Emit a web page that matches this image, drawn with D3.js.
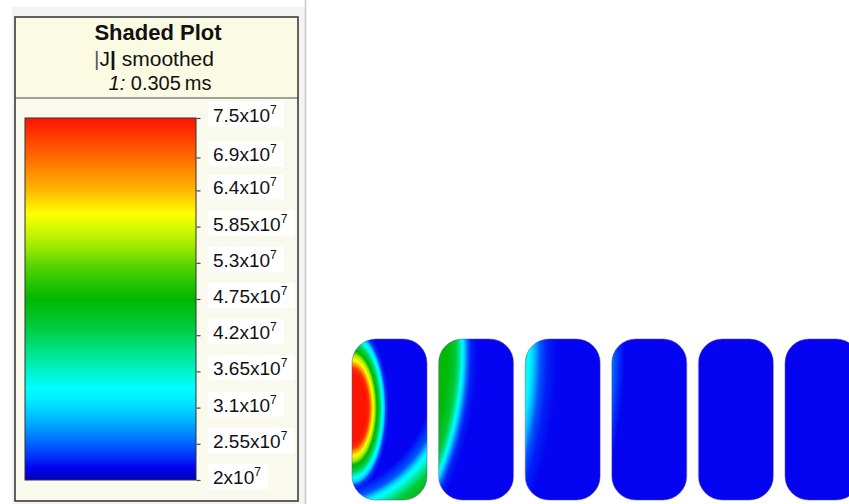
<!DOCTYPE html>
<html>
<head>
<meta charset="utf-8">
<script src="https://cdn.jsdelivr.net/npm/d3@7"></script>
<style>
  html, body { margin: 0; padding: 0; background: #fff; }
  svg { display: block; font-family: "Liberation Sans", Arial, Helvetica, sans-serif; }
</style>
</head>
<body>
<svg id="chart" width="849" height="504"></svg>
<script>
// ---- data -------------------------------------------------------------
// colour-scale ticks, |J| in units of 1e7 A/m^2
const jTicks = [7.5, 6.9, 6.4, 5.85, 5.3, 4.75, 4.2, 3.65, 3.1, 2.55, 2];
const jRange = [2, 7.5];

// colour map: |J| value -> colour
const mapJ = [2.0, 2.2, 2.35, 2.6, 2.9, 3.2, 3.4, 3.7, 4.0, 4.3, 4.75, 5.05, 5.3, 5.55, 5.85, 6.05, 6.4, 6.9, 7.5];
const mapColors = ["#0000bf", "#0404f2", "#0030fa", "#0070ff", "#00b4ff", "#00eaff", "#00ffff", "#00f0c0",
                   "#00e080", "#00cc40", "#00b800", "#30c800", "#60d800", "#a0ea00", "#d8fa00", "#ffff00",
                   "#ffb800", "#ff6a00", "#ff1400"];

// the six conductors
const cells = [0, 1, 2, 3, 4, 5];
const backgroundJ = 2.2;

// current sources: owning conductor, centre (in conductor widths from its top-left corner)
// and vertical stretch of the contours
const sourceCell = [0, 0, 1, 2, 3];
const sourceX = [0.0, -0.43, -4.08, -5.23, -6.39];
const sourceY = [0.92, 0.55, 0.16, 0.16, 0.16];
const sourceStretch = [2.3, 1, 1, 1, 1];

// radial |J| profiles of each source: radius (conductor widths) and |J| (1e7 A/m^2)
const profileR = [
  [0, 0.23, 0.25, 0.28, 0.31, 0.33, 0.37, 0.40, 0.43, 0.45, 0.49],
  [1.49, 1.63, 1.71, 1.79, 1.89, 2.0, 2.2],
  [4.0, 4.2, 4.3, 4.36, 4.39, 4.42, 4.46, 4.51, 4.6],
  [5.133, 5.24, 5.293, 5.36, 5.427, 5.52, 5.667],
  [6.267, 6.4, 6.48, 6.56, 6.667]
];
const profileJ = [
  [8.5, 7.3, 6.7, 6.0, 5.5, 4.8, 4.2, 3.5, 3.0, 2.4, 2.2],
  [2.2, 2.5, 3.2, 3.7, 4.3, 4.6, 4.7],
  [4.9, 4.7, 4.4, 3.9, 3.4, 3.1, 2.6, 2.3, 2.2],
  [3.7, 3.6, 3.3, 2.9, 2.5, 2.3, 2.2],
  [2.7, 2.6, 2.35, 2.2, 2.2]
];

// ---- layout -----------------------------------------------------------
const svg = d3.select("#chart");
const defs = svg.append("defs");

const color = d3.scaleLinear().domain(mapJ).range(mapColors).clamp(true);

// legend frame
svg.append("rect").attr("x", 12).attr("y", 7).attr("width", 293).attr("height", 497).attr("fill", "#f3f3f3");
svg.append("line").attr("x1", 305.5).attr("x2", 305.5).attr("y1", 0).attr("y2", 504)
  .attr("stroke", "#c8c8c8").attr("stroke-width", 1.5);

const box = { x0: 15, x1: 298, y0: 17, ySep: 98, y1: 501 };
svg.append("rect").attr("x", box.x0).attr("y", box.y0).attr("width", box.x1 - box.x0).attr("height", box.ySep - box.y0)
  .attr("fill", "#fbfbe4");
svg.append("rect").attr("x", box.x0).attr("y", box.ySep).attr("width", box.x1 - box.x0).attr("height", box.y1 - box.ySep)
  .attr("fill", "#f9f9ee");
svg.append("line").attr("x1", box.x0).attr("x2", box.x1).attr("y1", box.ySep).attr("y2", box.ySep)
  .attr("stroke", "#4a4a4a").attr("stroke-width", 1.2);
svg.append("rect").attr("x", box.x0).attr("y", box.y0).attr("width", box.x1 - box.x0).attr("height", box.y1 - box.y0)
  .attr("fill", "none").attr("stroke", "#3c3c3c").attr("stroke-width", 1.6);

// header
const cx = 157;
svg.append("text").attr("x", cx + 1).attr("y", 40).attr("text-anchor", "middle")
  .attr("font-size", 22).attr("font-weight", "bold").attr("fill", "#111").text("Shaded Plot");
const t2 = svg.append("text").attr("x", cx - 3).attr("y", 66).attr("text-anchor", "middle")
  .attr("font-size", 21).attr("fill", "#111");
t2.append("tspan").attr("fill", "#555").text("|");
t2.append("tspan").text("J");
t2.append("tspan").attr("font-weight", "bold").text("|");
t2.append("tspan").text(" smoothed");
const t3 = svg.append("text").attr("x", cx + 3).attr("y", 90).attr("text-anchor", "middle")
  .attr("font-size", 20).attr("fill", "#111");
t3.append("tspan").attr("font-style", "italic").text("1:");
t3.append("tspan").text(" 0.305\u2009ms");

// colour bar
const bar = { x0: 25, x1: 196, y0: 118, y1: 480 };
const yJ = d3.scaleLinear().domain(jRange).range([bar.y1, bar.y0]);
const offset = d3.scaleLinear().domain(jRange).range([0, 1]);
const grad = defs.append("linearGradient").attr("id", "jGrad")
  .attr("x1", 0).attr("y1", 1).attr("x2", 0).attr("y2", 0);
grad.selectAll("stop").data(mapJ).join("stop")
  .attr("offset", d => offset(d))
  .attr("stop-color", d => color(d));
svg.append("rect").attr("x", bar.x0).attr("y", bar.y0).attr("width", bar.x1 - bar.x0).attr("height", bar.y1 - bar.y0)
  .attr("fill", "url(#jGrad)").attr("stroke", "#333").attr("stroke-width", 1);

const axis = svg.append("g").attr("transform", `translate(${bar.x1 + 0.5},0)`)
  .call(d3.axisRight(yJ).tickValues(jTicks).tickSize(4).tickFormat(""));
axis.select(".domain").remove();
axis.selectAll(".tick line").attr("stroke", "#444").attr("stroke-width", 1.2);

// tick labels with white backing
const labels = svg.append("g");
jTicks.forEach(t => {
  const g = labels.append("g");
  const txt = g.append("text").attr("x", 213).attr("y", yJ(t) + 4)
    .attr("font-size", 19).attr("fill", "#111");
  txt.append("tspan").text(`${t}x10`);
  txt.append("tspan").attr("font-size", 12).attr("dy", -8).text("7");
  const bb = txt.node().getBBox();
  g.insert("rect", "text").attr("x", bb.x - 5).attr("y", bb.y - 1)
    .attr("width", bb.width + 12).attr("height", bb.height + 2).attr("fill", "#ffffff");
});

// conductors
const cellW = 75, cellH = 161, cellTop = 339, cellR = 24;
const cellX = d3.scaleLinear().domain([0, 5]).range([352, 785]);
const unit = d3.scaleLinear().domain([0, 1]).range([0, cellW]);   // conductor widths -> px
const profiles = profileR.map((r, k) => d3.scaleLinear().domain(r).range(profileJ[k]).clamp(true));

cells.forEach(c => {
  const canvas = document.createElement("canvas");
  canvas.width = cellW; canvas.height = cellH;
  const ctx = canvas.getContext("2d");
  const img = ctx.createImageData(cellW, cellH);
  const srcs = sourceCell.map((sc, k) => k).filter(k => sourceCell[k] === c);
  for (let j = 0; j < cellH; j++) {
    for (let i = 0; i < cellW; i++) {
      const px = unit.invert(i + 0.5), py = unit.invert(j + 0.5);
      let v = backgroundJ;
      srcs.forEach(k => {
        const dx = px - sourceX[k], dy = (py - sourceY[k]) / sourceStretch[k];
        v = Math.max(v, profiles[k](Math.hypot(dx, dy)));
      });
      const col = d3.rgb(color(v));
      const p = (j * cellW + i) * 4;
      img.data[p] = col.r; img.data[p + 1] = col.g; img.data[p + 2] = col.b; img.data[p + 3] = 255;
    }
  }
  ctx.putImageData(img, 0, 0);

  const x = cellX(c);
  defs.append("clipPath").attr("id", `cellClip${c}`)
    .append("rect").attr("x", x).attr("y", cellTop).attr("width", cellW).attr("height", cellH)
    .attr("rx", cellR).attr("ry", cellR);
  svg.append("image").attr("x", x).attr("y", cellTop).attr("width", cellW).attr("height", cellH)
    .attr("href", canvas.toDataURL()).attr("clip-path", `url(#cellClip${c})`)
    .attr("preserveAspectRatio", "none");
  svg.append("rect").attr("x", x).attr("y", cellTop).attr("width", cellW).attr("height", cellH)
    .attr("rx", cellR).attr("ry", cellR)
    .attr("fill", "none").attr("stroke", "#5a48a0").attr("stroke-opacity", 0.5).attr("stroke-width", 1);
});
</script>
</body>
</html>
